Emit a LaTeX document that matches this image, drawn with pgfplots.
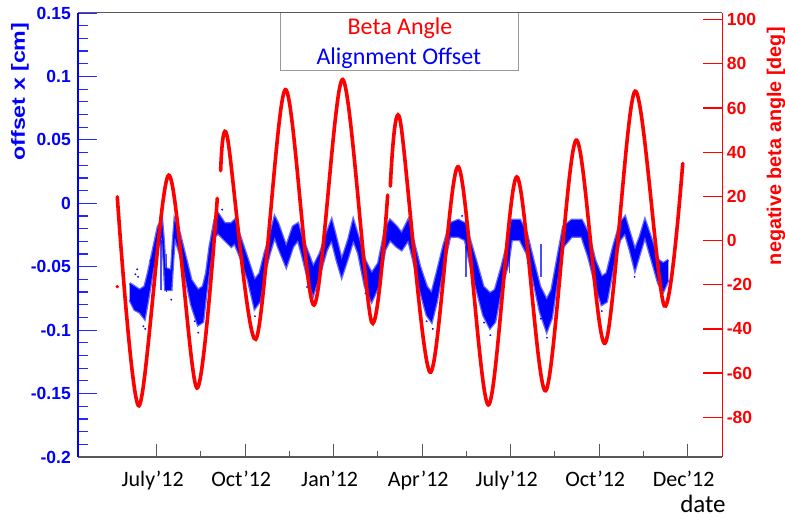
\documentclass[border=0pt]{standalone}
\usepackage{pgfplots}
\pgfplotsset{compat=1.18}
\usepgfplotslibrary{fillbetween}
\usepackage{fontspec}
\setmainfont{Carlito}
\newfontfamily\rootfont{Liberation Sans}

\pgfplotstableread{
u off
0.695 -0.0631
0.751 -0.0657
0.808 -0.0683
0.864 -0.0657
0.902 -0.0552
0.958 -0.0368
1.015 -0.0184
1.060 -0.0132
1.080 -0.0300
1.097 -0.0512
1.165 -0.0526
1.185 -0.0300
1.203 -0.0132
1.260 -0.0236
1.316 -0.0394
1.391 -0.0605
1.467 -0.0683
1.523 -0.0657
1.560 -0.0552
1.599 -0.0342
1.655 -0.0132
1.693 -0.0079
1.768 -0.0158
1.843 -0.0158
1.881 -0.0132
1.956 -0.0289
2.032 -0.0447
2.107 -0.0605
2.164 -0.0552
2.220 -0.0394
2.277 -0.0263
2.333 -0.0106
2.371 -0.0158
2.464 -0.0342
2.540 -0.0184
2.597 -0.0158
2.638 -0.0263
2.713 -0.0394
2.769 -0.0500
2.845 -0.0394
2.921 -0.0236
2.977 -0.0132
3.034 -0.0289
3.090 -0.0447
3.165 -0.0289
3.221 -0.0132
3.278 -0.0263
3.354 -0.0447
3.429 -0.0552
3.504 -0.0473
3.580 -0.0210
3.636 -0.0132
3.712 -0.0184
3.768 -0.0236
3.843 -0.0132
3.899 -0.0289
3.975 -0.0500
4.051 -0.0657
4.107 -0.0709
4.164 -0.0552
4.238 -0.0342
4.314 -0.0158
4.408 -0.0132
4.484 -0.0158
4.540 -0.0289
4.616 -0.0473
4.690 -0.0657
4.766 -0.0709
4.823 -0.0683
4.898 -0.0500
4.973 -0.0289
5.011 -0.0132
5.105 -0.0132
5.181 -0.0236
5.255 -0.0447
5.331 -0.0657
5.407 -0.0762
5.463 -0.0683
5.538 -0.0394
5.594 -0.0184
5.689 -0.0132
5.802 -0.0132
5.877 -0.0236
5.953 -0.0447
6.028 -0.0579
6.085 -0.0552
6.159 -0.0342
6.235 -0.0158
6.292 -0.0106
6.347 -0.0236
6.404 -0.0368
6.460 -0.0263
6.517 -0.0132
6.593 -0.0289
6.668 -0.0447
6.724 -0.0473
6.781 -0.0447
}\bandtop

\pgfplotstableread{
u off
0.695 -0.0762
0.751 -0.0840
0.808 -0.0860
0.864 -0.0910
0.902 -0.0762
0.958 -0.0526
1.015 -0.0342
1.060 -0.0263
1.080 -0.0450
1.097 -0.0683
1.165 -0.0683
1.185 -0.0450
1.203 -0.0263
1.260 -0.0394
1.316 -0.0552
1.391 -0.0800
1.467 -0.0960
1.523 -0.0935
1.560 -0.0709
1.599 -0.0500
1.655 -0.0263
1.693 -0.0236
1.768 -0.0289
1.843 -0.0342
1.881 -0.0315
1.956 -0.0447
2.032 -0.0605
2.107 -0.0830
2.164 -0.0775
2.220 -0.0552
2.277 -0.0394
2.333 -0.0263
2.371 -0.0342
2.464 -0.0500
2.540 -0.0342
2.597 -0.0289
2.638 -0.0394
2.713 -0.0605
2.769 -0.0720
2.845 -0.0552
2.921 -0.0368
2.977 -0.0289
3.034 -0.0447
3.090 -0.0579
3.165 -0.0421
3.221 -0.0289
3.278 -0.0394
3.354 -0.0657
3.429 -0.0775
3.504 -0.0657
3.580 -0.0368
3.636 -0.0289
3.712 -0.0342
3.768 -0.0368
3.843 -0.0289
3.899 -0.0447
3.975 -0.0683
4.051 -0.0880
4.107 -0.0935
4.164 -0.0775
4.238 -0.0500
4.314 -0.0263
4.408 -0.0263
4.484 -0.0289
4.540 -0.0473
4.616 -0.0683
4.690 -0.0880
4.766 -0.0985
4.823 -0.0935
4.898 -0.0657
4.973 -0.0473
5.011 -0.0289
5.105 -0.0289
5.181 -0.0394
5.255 -0.0605
5.331 -0.0855
5.407 -0.1010
5.463 -0.0905
5.538 -0.0552
5.594 -0.0342
5.689 -0.0263
5.802 -0.0263
5.877 -0.0421
5.953 -0.0631
6.028 -0.0800
6.085 -0.0775
6.159 -0.0500
6.235 -0.0289
6.292 -0.0236
6.347 -0.0368
6.404 -0.0526
6.460 -0.0394
6.517 -0.0263
6.593 -0.0447
6.668 -0.0631
6.724 -0.0695
6.781 -0.0605
}\bandbot

\begin{document}
\begin{tikzpicture}

% ---- left (blue) axis with frame ----
\begin{axis}[
  at={(78bp,61bp)}, anchor=south west,
  scale only axis, width=644.3bp, height=444bp,
  xmin=0.111, xmax=7.391, ymin=-0.2, ymax=0.15,
  axis lines=box, separate axis lines,
  x axis line style={black!65, line width=1bp},
  y axis line style={blue, line width=1.3bp},
  xtick=\empty,
  ytick={-0.2,-0.15,-0.1,-0.05,0,0.05,0.1,0.15},
  minor y tick num=4,
  ytick pos=left, tick align=inside,
  major tick length=19bp, minor tick length=9.7bp,
  tick style={blue!85, line width=1.2bp},
  scaled y ticks=false,
  /pgf/number format/assume math mode=true,
  yticklabel style={/pgf/number format/fixed, /pgf/number format/precision=2,
    font=\fontsize{17.5bp}{18bp}\rootfont\bfseries, text=blue,
    inner sep=0pt, anchor=east, xshift=-7bp},
  ylabel={\scalebox{1.22}[1]{offset x [cm]}},
  ylabel style={font=\fontsize{19bp}{20bp}\rootfont\bfseries, text=blue,
    at={(axis description cs:-0.090,0.823)}, anchor=center, rotate=0},
]
\addplot[name path=top, blue, opacity=0.6, line width=2.6bp] table[x=u, y=off] {\bandtop};
\addplot[name path=bot, blue, opacity=0.6, line width=2.6bp] table[x=u, y=off] {\bandbot};
\addplot[blue] fill between[of=top and bot];
% vertical streaks
\addplot[blue, opacity=0.7, line width=1.3bp] coordinates {(1.050,-0.029) (1.050,-0.068)};
\addplot[blue, opacity=0.7, line width=1.3bp] coordinates {(1.110,-0.040) (1.110,-0.070)};
\addplot[blue, opacity=0.7, line width=1.3bp] coordinates {(4.495,-0.034) (4.495,-0.058)};
\addplot[blue, opacity=0.7, line width=1.3bp] coordinates {(4.985,-0.034) (4.985,-0.055)};
\addplot[blue, opacity=0.7, line width=1.3bp] coordinates {(5.342,-0.032) (5.342,-0.058)};
% scattered points
\addplot[only marks, mark=*, mark size=0.7bp, blue] coordinates {
(0.76,-0.056) (0.78,-0.052) (0.79,-0.058) (0.85,-0.097) (0.87,-0.099) (0.93,-0.045)
(1.165,-0.076) (1.47,-0.102) (1.43,-0.093) (2.11,-0.089) (4.12,-0.099) (4.77,-0.104)
(5.41,-0.106) (6.03,-0.085) (6.40,-0.058) (1.74,-0.005) (3.86,-0.009) (4.45,-0.010)
(4.05,-0.093) (4.70,-0.094) (5.34,-0.091) (2.70,-0.066) (3.36,-0.071)
};
\end{axis}

% ---- x ticks and labels ----
\begin{axis}[
  at={(78bp,61bp)}, anchor=south west,
  scale only axis, width=644.3bp, height=444bp,
  xmin=0.111, xmax=7.391, ymin=0, ymax=1,
  hide y axis, axis x line*=bottom,
  x axis line style={black!65, line width=1bp, -},
  xtick={1,2,3,4,5,6,7}, minor x tick num=1,
  tick align=inside, major tick length=13bp, minor tick length=6bp,
  tick style={black!65, line width=1bp},
  xticklabels={July’12, Oct’12, Jan’12, Apr’12, July’12, Oct’12, Dec’12},
  xticklabel style={font=\fontsize{22bp}{24bp}\selectfont, anchor=base,
    yshift=-29.7bp, xshift=-4bp},
  xlabel={date},
  xlabel style={font=\fontsize{25bp}{27bp}\selectfont,
    at={(axis description cs:0.970,-0.126)}, anchor=base},
]
\addplot[draw=none] coordinates {(1,0.5) (7,0.5)};
\end{axis}

% ---- right (red) axis ----
\begin{axis}[
  at={(78bp,61bp)}, anchor=south west,
  scale only axis, width=644.3bp, height=444bp,
  xmin=0.111, xmax=7.391, ymin=-98, ymax=103,
  axis x line=none, axis y line*=right,
  y axis line style={red, line width=1.6bp, -},
  ytick={-80,-60,-40,-20,0,20,40,60,80,100},
  tick align=inside, major tick length=19bp,
  tick style={red, line width=1.3bp},
  clip=false,
  /pgf/number format/assume math mode=true,
  yticklabel style={font=\fontsize{17.5bp}{18bp}\rootfont\bfseries, text=red,
    inner sep=0pt, anchor=west, xshift=4.4bp},
  ylabel={negative beta angle [deg]},
  ylabel style={font=\fontsize{19.8bp}{21bp}\rootfont\bfseries, text=red,
    at={(axis description cs:1.0834,0.700)}, anchor=center, rotate=0},
]
\addplot[red, line width=3.6bp, smooth, line cap=round] coordinates {
(0.555,19.8) (0.800,-74.8) (1.136,29.6) (1.455,-66.8) (1.685,19.1)};
\addplot[red, line width=3.6bp, smooth, line cap=round] coordinates {
(1.723,31.6) (1.798,46.9) (2.119,-44.7) (2.453,68.3) (2.777,-29.2) (3.102,72.9) (3.429,-37.0) (3.610,20.6)};
\addplot[red, line width=3.6bp, smooth, line cap=round] coordinates {
(3.640,24.6) (3.749,54.8) (4.088,-59.6) (4.408,33.4) (4.747,-74.4) (5.068,28.8) (5.395,-68.0) (5.738,45.4) (6.066,-46.5) (6.405,67.6) (6.736,-29.6) (6.944,34.9)};
\addplot[only marks, mark=*, mark size=1.5bp, red] coordinates {(0.555,-20.9)};
% text box
\draw[black!40, fill=white, line width=1bp] (axis description cs:0.315,0.870) rectangle (axis description cs:0.683,1.0);
\node[anchor=base, text=red, font=\fontsize{24bp}{26bp}\selectfont, inner sep=0pt]
  at (axis description cs:0.4998,0.952) {Beta Angle};
\node[anchor=base, text=blue, font=\fontsize{24bp}{26bp}\selectfont, inner sep=0pt]
  at (axis description cs:0.498,0.883) {Alignment Offset};
\draw[black!65, line width=1bp] (axis description cs:0,1) -- (axis description cs:1,1);
\end{axis}
\pgfresetboundingbox
\path[use as bounding box] (0,0) rectangle (785bp,518bp);
\end{tikzpicture}
\end{document}
